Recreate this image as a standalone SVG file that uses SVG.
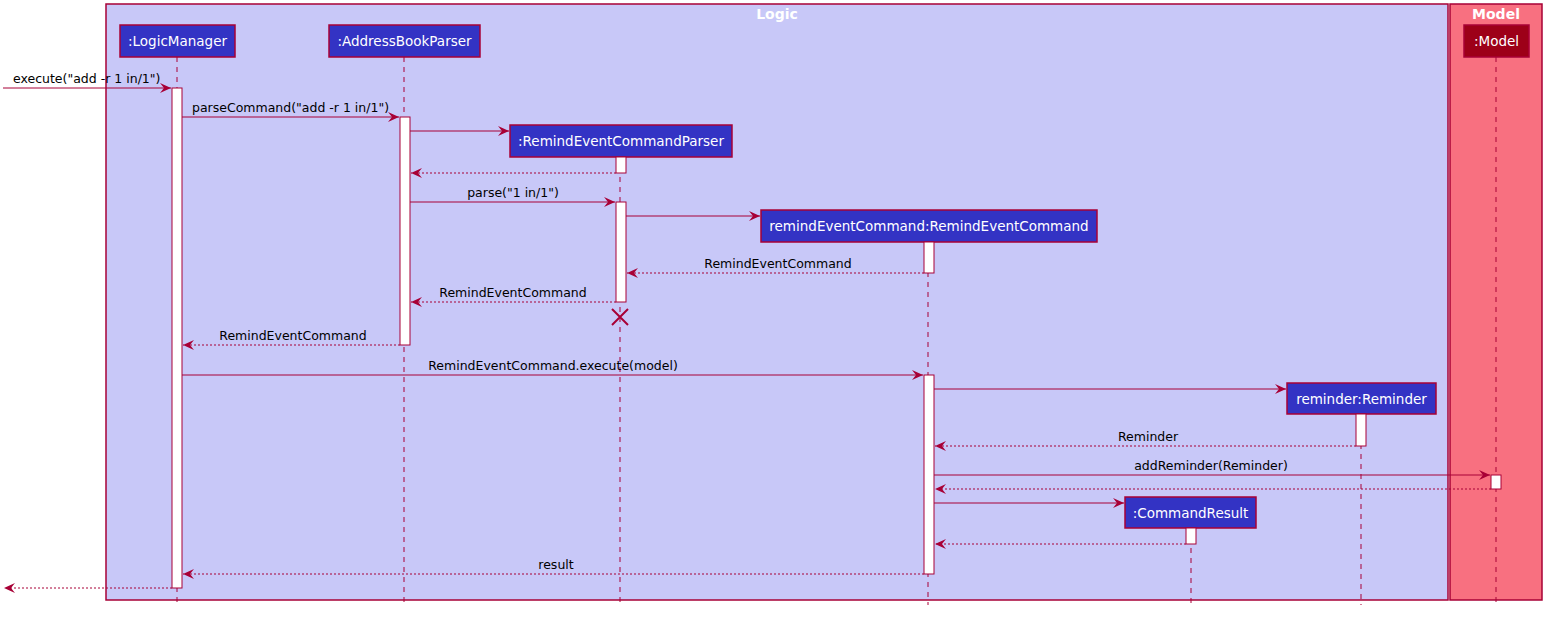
<svg xmlns="http://www.w3.org/2000/svg" width="1552" height="617" viewBox="0 0 1552 617">
<style>
.frame{stroke:#A80036;stroke-width:1.5}
.hdr{fill:#3333C4;stroke:#A80036;stroke-width:1.5}
.mhdr{fill:#9D0018;stroke:#A80036;stroke-width:1.5}
.htxt{font-family:"DejaVu Sans",sans-serif;font-size:13.5px;fill:#FFFFFF;text-anchor:middle}
.ttl{font-family:"DejaVu Sans",sans-serif;font-size:14px;font-weight:bold;fill:#FFFFFF;text-anchor:middle}
.life{stroke:#A80036;stroke-width:1;stroke-dasharray:5,5;fill:none}
.act{fill:#FFFFFF;stroke:#A80036;stroke-width:1}
.msg{stroke:#A80036;stroke-width:1;fill:none;marker-end:url(#ah)}
.ret{stroke:#A80036;stroke-width:1;fill:none;stroke-dasharray:2,2;marker-end:url(#ah)}
.lbl{font-family:"DejaVu Sans",sans-serif;font-size:12.5px;fill:#000000}
.mid{text-anchor:middle}
</style>
<defs>
<marker id="ah" viewBox="0 0 12 10" refX="11" refY="5" markerWidth="12" markerHeight="10" markerUnits="userSpaceOnUse" orient="auto">
<path d="M0,0 L11,5 L0,10 L4,5 Z" fill="#A80036"/>
</marker>
</defs>
<g id="box-logic">
<rect x="106" y="4" width="1342" height="596" fill="#C8C8F8" class="frame"/>
<text x="777" y="19" class="ttl">Logic</text>
</g>
<g id="box-model">
<rect x="1450" y="4" width="92" height="596" fill="#F87080" class="frame"/>
<text x="1496" y="19" class="ttl">Model</text>
</g>
<g id="lifelines">
<line x1="177" y1="57" x2="177" y2="605" class="life"/>
<line x1="404" y1="57" x2="404" y2="605" class="life"/>
<line x1="620" y1="157" x2="620" y2="605" class="life"/>
<line x1="928" y1="242" x2="928" y2="605" class="life"/>
<line x1="1361" y1="414" x2="1361" y2="605" class="life"/>
<line x1="1191" y1="528" x2="1191" y2="605" class="life"/>
<line x1="1496" y1="57" x2="1496" y2="605" class="life"/>
</g>
<g id="LogicManager">
<rect x="120" y="25" width="115" height="32" class="hdr"/>
<text x="177.5" y="46" class="htxt">:LogicManager</text>
<rect x="172" y="88" width="10" height="500" class="act"/>
</g>
<g id="AddressBookParser">
<rect x="329" y="25" width="151" height="32" class="hdr"/>
<text x="404.5" y="46" class="htxt">:AddressBookParser</text>
<rect x="400" y="117" width="10" height="228" class="act"/>
</g>
<g id="RemindEventCommandParser">
<rect x="510" y="125" width="222" height="32" class="hdr"/>
<text x="621" y="146" class="htxt">:RemindEventCommandParser</text>
<rect x="616" y="157" width="10" height="16" class="act"/>
<rect x="616" y="202" width="10" height="100" class="act"/>
<path d="M612,309 L628,325 M628,309 L612,325" stroke="#A80036" stroke-width="2" fill="none"/>
</g>
<g id="RemindEventCommand">
<rect x="761" y="210" width="336" height="32" class="hdr"/>
<text x="929" y="231" class="htxt">remindEventCommand:RemindEventCommand</text>
<rect x="924" y="242" width="10" height="31" class="act"/>
<rect x="924" y="375" width="10" height="199" class="act"/>
</g>
<g id="Reminder">
<rect x="1287" y="383" width="149" height="31" class="hdr"/>
<text x="1361.5" y="404" class="htxt">reminder:Reminder</text>
<rect x="1356" y="414" width="10" height="32" class="act"/>
</g>
<g id="CommandResult">
<rect x="1125" y="497" width="131" height="31" class="hdr"/>
<text x="1190.5" y="518" class="htxt">:CommandResult</text>
<rect x="1186" y="528" width="10" height="16" class="act"/>
</g>
<g id="Model">
<rect x="1464" y="25" width="65" height="32" class="mhdr"/>
<text x="1496.5" y="46" class="htxt">:Model</text>
<rect x="1491" y="475" width="10" height="14" class="act"/>
</g>
<g id="connectors">
<line x1="3" y1="88" x2="171" y2="88" class="msg"/>
<text x="13" y="83" class="lbl">execute("add -r 1 in/1")</text>
<line x1="182" y1="117" x2="399" y2="117" class="msg"/>
<text x="192" y="112" class="lbl">parseCommand("add -r 1 in/1")</text>
<line x1="410" y1="131" x2="509" y2="131" class="msg"/>
<line x1="616" y1="173" x2="411" y2="173" class="ret"/>
<line x1="410" y1="202" x2="615" y2="202" class="msg"/>
<text x="513" y="197" class="lbl mid">parse("1 in/1")</text>
<line x1="626" y1="216" x2="760" y2="216" class="msg"/>
<line x1="924" y1="273" x2="627" y2="273" class="ret"/>
<text x="778" y="268" class="lbl mid">RemindEventCommand</text>
<line x1="616" y1="302" x2="411" y2="302" class="ret"/>
<text x="513" y="297" class="lbl mid">RemindEventCommand</text>
<line x1="400" y1="345" x2="183" y2="345" class="ret"/>
<text x="293" y="340" class="lbl mid">RemindEventCommand</text>
<line x1="182" y1="375" x2="923" y2="375" class="msg"/>
<text x="553" y="370" class="lbl mid">RemindEventCommand.execute(model)</text>
<line x1="934" y1="389" x2="1286" y2="389" class="msg"/>
<line x1="1356" y1="446" x2="935" y2="446" class="ret"/>
<text x="1148" y="441" class="lbl mid">Reminder</text>
<line x1="934" y1="475" x2="1490" y2="475" class="msg"/>
<text x="1211" y="470" class="lbl mid">addReminder(Reminder)</text>
<line x1="1491" y1="489" x2="935" y2="489" class="ret"/>
<line x1="934" y1="503" x2="1124" y2="503" class="msg"/>
<line x1="1186" y1="544" x2="935" y2="544" class="ret"/>
<line x1="924" y1="574" x2="183" y2="574" class="ret"/>
<text x="556" y="569" class="lbl mid">result</text>
<line x1="172" y1="588" x2="4" y2="588" class="ret"/>
</g>
</svg>
